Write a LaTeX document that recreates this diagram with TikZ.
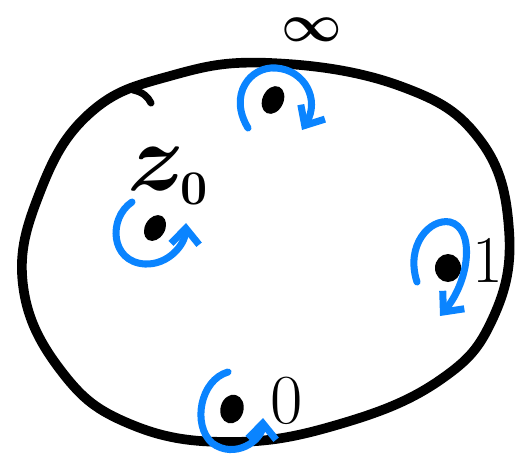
\RequirePackage{fix-cm}
\documentclass[tikz,border=0pt]{standalone}
\usepackage{amsmath,amssymb}
\usepackage{xcolor}
\usepackage{tikz}
\usetikzlibrary{shapes.geometric,arrows.meta}
\definecolor{spinblue}{HTML}{0A84FF}

\begin{document}
\begin{tikzpicture}[x=0.02cm, y=-0.02cm,
    outline/.style={black, line width=5.5pt, line join=round, line cap=round},
    spin/.style={-{Straight Barb[length=9pt, width=16pt, line width=4pt]}, spinblue, line width=4pt, line cap=round},
    dot/.style={ellipse, fill=black, inner sep=0pt, minimum width=0.42cm, minimum height=0.58cm},
    lbl/.style={font=\fontsize{42}{42}\selectfont\boldmath, inner sep=0pt}
]
\useasboundingbox (0,0) rectangle (519,466);

% the sphere
\draw[outline] plot[smooth cycle, tension=0.7] coordinates {
    (270,63) (400,86) (480,140) (509,230) (493,318) (440,380)
    (340,424) (230,442) (130,424) (62,372) (23,285) (40,192)
    (90,113) (170,76)};
\draw[outline, line width=4pt] (133,90) .. controls (143,92) and (148,97) .. (151,103);

% points
\node[dot, rotate=-25] (pinf) at (273,100) {};
\node[dot, rotate=-30, minimum width=0.4cm, minimum height=0.55cm] (pz) at (155,228) {};
\node[dot, minimum width=0.52cm, minimum height=0.56cm] (pone) at (448,268) {};
\node[dot, rotate=-15, minimum width=0.46cm, minimum height=0.58cm] (pzero) at (232,409) {};

% labels
\node[lbl, font=\fontsize{30}{30}\selectfont\boldmath] (linf) at (312,30) {$\infty$};
\node[lbl, font=\fontsize{55}{55}\selectfont\boldmath] (lz) at (168,176) {$z_{\scriptscriptstyle 0}$};
\node[lbl, font=\fontsize{38}{38}\selectfont] (lone) at (488,261) {$1$};
\node[lbl, font=\fontsize{40}{40}\selectfont] (lzero) at (287,401) {$0$};

% rotations
\draw[spin] (248,128) .. controls (228,95) and (250,66) .. (276,68)
    .. controls (305,70) and (320,100) .. (302,130);
\draw[spin] (132,202) .. controls (108,218) and (110,262) .. (145,264)
    .. controls (168,265) and (185,245) .. (186,223);
\draw[spin] (417,282) .. controls (405,245) and (430,218) .. (450,222)
    .. controls (475,228) and (470,280) .. (440,316);
\draw[spin] (228,372) .. controls (200,380) and (192,425) .. (212,443)
    .. controls (235,460) and (262,440) .. (263,418);
\end{tikzpicture}
\end{document}
